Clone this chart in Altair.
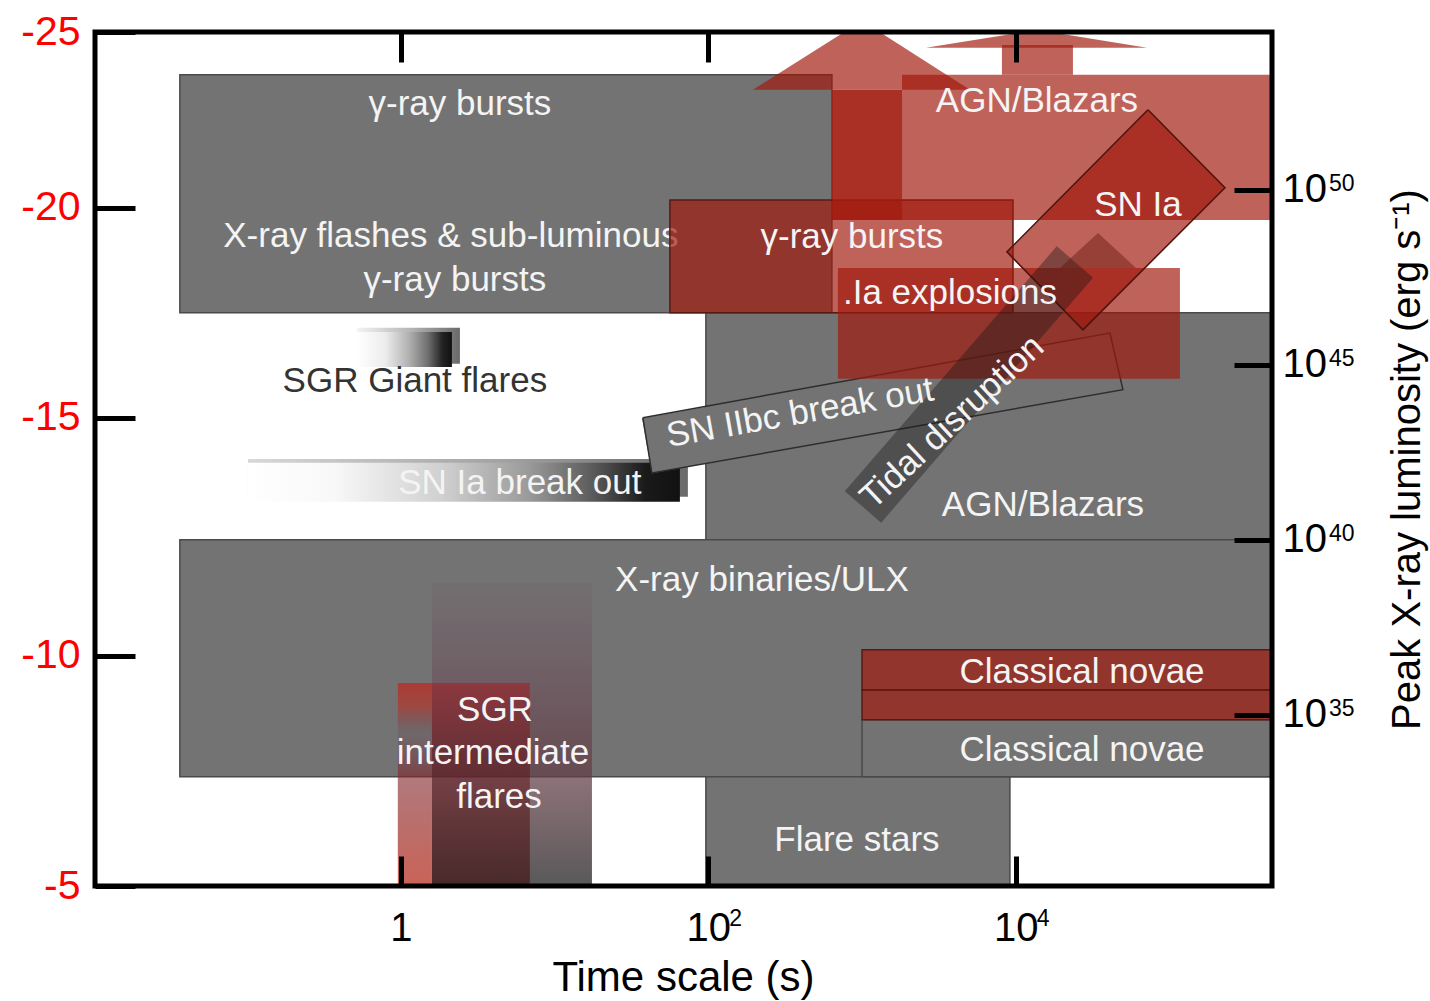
import altair as alt
import pandas as pd

# ---------------- data (x: log10 time scale [s], y: log10 peak X-ray luminosity [erg/s]) ----------------
X_DOMAIN = [-1.99, 5.667]
Y_DOMAIN = [30.11, 54.51]

x_tick_values = [0, 2, 4]
x_tick_labels = ["1", "10", "10"]
x_exp_values = [2, 4]
x_exp_labels = ["2", "4"]
lum_tick_values = [35, 40, 45, 50]
lum_tick_labels = ["10", "10", "10", "10"]
lum_exp_labels = ["35", "40", "45", "50"]
mag_tick_values = [54.51, 49.49, 43.49, 36.69, 30.11]
mag_tick_labels = ["-25", "-20", "-15", "-10", "-5"]

# grey source classes
gray_names = ["GRB / XRF", "AGN/Blazars", "X-ray binaries/ULX", "Flare stars", "Classical novae"]
gray_t0 = [-1.438, 1.984, -1.438, 1.984, 3.0]
gray_t1 = [2.804, 5.667, 5.667, 3.962, 5.667]
gray_l0 = [46.49, 40.0, 33.23, 30.11, 33.23]
gray_l1 = [53.29, 46.49, 40.0, 33.23, 34.86]

# red (outlined) source classes
redo_names = ["γ-ray bursts", "Classical novae a", "Classical novae b"]
redo_t0 = [1.750, 3.0, 3.0]
redo_t1 = [3.982, 5.667, 5.667]
redo_l0 = [46.49, 35.71, 34.86]
redo_l1 = [49.71, 36.86, 35.71]

# red (plain) source classes
redp_names = [".Ia explosions", "AGN/Blazars"]
redp_t0 = [2.843, 3.260]
redp_t1 = [5.068, 5.667]
redp_l0 = [44.6, 49.14]
redp_l1 = [47.77, 53.29]

# arrow shafts of the AGN/Blazars region
shaft_names = ["arrow 1", "arrow 2"]
shaft_t0 = [2.804, 3.910]
shaft_t1 = [3.260, 4.372]
shaft_l0 = [49.14, 53.29]
shaft_l1 = [52.86, 54.14]
shaft_op = [0.9, 0.68]

# arrow heads (triangles): points and base
head_arrow = ["arrow 1", "arrow 1", "arrow 1", "arrow 2", "arrow 2", "arrow 2"]
head_t = [2.290, 3.0, 3.702, 3.416, 4.138, 4.854]
head_l = [52.86, 54.83, 52.86, 54.06, 54.57, 54.06]
head_base = [52.86, 52.86, 52.86, 54.06, 54.06, 54.06]

tidal_head_t = [4.288, 4.535, 4.782]
tidal_head_l = [47.77, 48.77, 47.77]
tidal_head_base = [47.77, 47.77, 47.77]

# rotated boxes: axis from (t0,l0) to (t1,l1)
iibc_axis = {"t0": [1.601], "t1": [4.658], "l0": [42.69], "l1": [45.09]}
snia_axis = {"t0": [5.111], "t1": [4.190], "l0": [51.17], "l1": [47.11]}
tidal_axis = {"t0": [3.006], "t1": [4.385], "l0": [40.94], "l1": [47.94]}

iibc_corner_t = [1.574, 4.613, 4.697, 1.633, 1.574]
iibc_corner_l = [43.49, 45.91, 44.29, 41.91, 43.49]
snia_corner_t = [4.860, 5.361, 4.437, 3.943, 4.860]
snia_corner_l = [52.29, 50.06, 46.0, 48.23, 52.29]

# shaded (gradient) regions
grad_names = ["SGR giant shadow", "SGR giant", "SN Ia break out shadow", "SN Ia break out",
              "SGR intermediate broad", "SGR intermediate core", "SGR intermediate narrow"]
grad_t0 = [-0.286, -0.286, -0.995, -0.995, 0.202, 0.202, -0.020]
grad_t1 = [0.384, 0.332, 1.867, 1.815, 1.243, 0.839, 0.202]
grad_l0 = [45.03, 44.94, 41.23, 41.09, 30.11, 30.11, 30.11]
grad_l1 = [46.06, 45.94, 42.31, 42.20, 38.77, 35.91, 35.91]

# labels
under_text = ["X-ray flashes & sub-luminous"]
under_t = [0.325]
under_l = [48.69]

lab_text = ["γ-ray bursts", "γ-ray bursts", "γ-ray bursts", "AGN/Blazars", "SN Ia", ".Ia explosions",
            "SN Ia break out", "AGN/Blazars", "X-ray binaries/ULX", "Classical novae", "Classical novae",
            "SGR", "intermediate", "flares", "Flare stars"]
lab_t = [0.384, 0.351, 2.934, 4.138, 4.795, 3.572, 0.774, 4.177, 2.349, 4.431, 4.431,
         0.612, 0.599, 0.638, 2.967]
lab_l = [52.46, 47.43, 48.66, 52.54, 49.57, 47.06, 41.63, 41.0, 38.86, 36.23, 34.0,
         35.14, 33.91, 32.66, 31.43]

dark_text = ["SGR Giant flares"]
dark_t = [0.091]
dark_l = [44.54]

iibc_text = ["SN IIbc break out"]
iibc_t = [2.596]
iibc_l = [43.63]
tidal_text = ["Tidal disruption"]
tidal_t = [3.585]
tidal_l = [43.37]

# ---------------- styling ----------------
W, H = 1177, 854
FONT = "Liberation Sans"
FS = 35
GRAY = "#737373"
RED = "#a1180c"
RED_OP = 0.68
XS = alt.Scale(domain=X_DOMAIN, nice=False, zero=False)
YS = alt.Scale(domain=Y_DOMAIN, nice=False, zero=False)


def lab_expr(vals, labs):
    parts = [f"abs(datum.value - ({v})) < 0.01 ? '{s}'" for v, s in zip(vals, labs)]
    return " : ".join(parts) + " : ''"


axis_bottom = alt.Axis(orient="bottom", values=x_tick_values, labelExpr=lab_expr(x_tick_values, x_tick_labels),
                       offset=-30, tickSize=30, tickWidth=5, tickColor="black", domain=False, grid=False,
                       labelFont=FONT, labelFontSize=40, labelColor="black", labelPadding=22,
                       labelFlush=False, labelOverlap=False,
                       title="Time scale (s)", titleFont=FONT, titleFontSize=42, titleFontWeight="normal",
                       titleColor="black", titleX=588, titleY=121, titleAlign="center",
                       titleBaseline="middle", zindex=1)
axis_top = alt.Axis(orient="top", values=x_tick_values, labels=False, offset=-30, tickSize=30, tickWidth=5,
                    tickColor="black", domain=False, grid=False, title="", zindex=1)
axis_left = alt.Axis(orient="left", values=mag_tick_values, labelExpr=lab_expr(mag_tick_values, mag_tick_labels),
                     offset=-40, tickSize=40, tickWidth=5, tickColor="black", domain=False, grid=False,
                     labelFont=FONT, labelFontSize=41, labelColor="#ff0000", labelPadding=15,
                     labelOverlap=False, labelFlush=False, title="", zindex=1)
axis_right = alt.Axis(orient="right", values=lum_tick_values, labelExpr=lab_expr(lum_tick_values, lum_tick_labels),
                      offset=-38, tickSize=38, tickWidth=5, tickColor="black", domain=False, grid=False,
                      labelFont=FONT, labelFontSize=40, labelColor="black", labelPadding=10,
                      labelOverlap=False, labelFlush=False,
                      title="Peak X-ray luminosity (erg s⁻¹)", titleFont=FONT, titleFontSize=40,
                      titleFontWeight="normal", titleColor="black", titleAngle=270, titleX=173, titleY=427,
                      titleAlign="center", titleBaseline="middle", zindex=1)


def rect_layer(df, xaxis=None, yaxis=None, **mark):
    return alt.Chart(df).mark_rect(clip=True, **mark).encode(
        x=alt.X("t0:Q", scale=XS, axis=xaxis), x2="t1:Q",
        y=alt.Y("l0:Q", scale=YS, axis=yaxis), y2="l1:Q")


def grad(stops, vertical=False):
    return alt.LinearGradient(gradient="linear",
                              stops=[alt.GradientStop(color=c, offset=o) for o, c in stops],
                              x1=0, y1=0, x2=0 if vertical else 1, y2=1 if vertical else 0)


def text_layer(texts, ts, ls, align="center", baseline="middle", **mark):
    df = pd.DataFrame({"text": texts, "t": ts, "l": ls})
    return alt.Chart(df).mark_text(font=FONT, align=align, baseline=baseline, **mark).encode(
        x=alt.X("t:Q", scale=XS, axis=None), y=alt.Y("l:Q", scale=YS, axis=None), text="text:N")


def rule_layer(d, **mark):
    return alt.Chart(pd.DataFrame(d)).mark_rule(clip=True, **mark).encode(
        x=alt.X("t0:Q", scale=XS, axis=None), x2="t1:Q",
        y=alt.Y("l0:Q", scale=YS, axis=None), y2="l1:Q")


def outline_layer(ts, ls, **mark):
    df = pd.DataFrame({"t": ts, "l": ls, "k": list(range(len(ts)))})
    return alt.Chart(df).mark_line(clip=True, **mark).encode(
        x=alt.X("t:Q", scale=XS, axis=None), y=alt.Y("l:Q", scale=YS, axis=None), order="k:Q")


df_gray = pd.DataFrame({"name": gray_names, "t0": gray_t0, "t1": gray_t1, "l0": gray_l0, "l1": gray_l1})
df_redo = pd.DataFrame({"name": redo_names, "t0": redo_t0, "t1": redo_t1, "l0": redo_l0, "l1": redo_l1})
df_redp = pd.DataFrame({"name": redp_names, "t0": redp_t0, "t1": redp_t1, "l0": redp_l0, "l1": redp_l1})
df_shaft = pd.DataFrame({"name": shaft_names, "t0": shaft_t0, "t1": shaft_t1, "l0": shaft_l0,
                         "l1": shaft_l1, "op": shaft_op})
df_head = pd.DataFrame({"arrow": head_arrow, "t": head_t, "l": head_l, "base": head_base})
df_thead = pd.DataFrame({"t": tidal_head_t, "l": tidal_head_l, "base": tidal_head_base})
df_grad = pd.DataFrame({"name": grad_names, "t0": grad_t0, "t1": grad_t1, "l0": grad_l0, "l1": grad_l1})

grad_styles = [
    grad([(0, "#f4f4f4"), (0.5, "#b8b8b8"), (1, "#6a6a6a")]),
    grad([(0, "#ffffff"), (0.3, "#ececec"), (0.55, "#b0b0b0"), (0.75, "#6e6e6e"), (0.9, "#222222"), (1, "#111111")]),
    grad([(0, "#d8d8d8"), (0.6, "#a0a0a0"), (1, "#6a6a6a")]),
    grad([(0, "#ffffff"), (0.2, "#f8f8f8"), (0.45, "#d0d0d0"), (0.65, "#9a9a9a"), (0.8, "#5a5a5a"),
          (0.92, "#1a1a1a"), (1, "#111111")]),
    grad([(0, "rgba(110,70,90,0.1)"), (0.6, "rgba(100,60,70,0.7)"), (1, "rgba(80,80,80,0.95)")], vertical=True),
    grad([(0, "rgba(170,20,25,0.5)"), (0.35, "rgba(100,20,25,0.5)"), (1, "rgba(60,10,10,0.6)")], vertical=True),
    grad([(0, "rgba(190,40,30,0.75)"), (0.12, "rgba(185,45,35,0.6)"), (0.25, "rgba(100,60,75,0.2)"),
          (0.45, "rgba(130,40,45,0.62)"), (1, "rgba(190,60,45,0.8)")], vertical=True),
]

layers = []
# grey classes (carry bottom and left axes)
layers.append(rect_layer(df_gray, xaxis=axis_bottom, yaxis=axis_left, fill=GRAY, stroke="#4a4a4a",
                         strokeWidth=1.5))
# gradient regions
for i, g in enumerate(grad_styles):
    layers.append(rect_layer(df_grad.iloc[[i]], fill=g))
# label partly hidden by red box
layers.append(text_layer(under_text, under_t, under_l, fontSize=FS, color="#f4f4f4"))
# SN IIbc break out box
layers.append(rule_layer(iibc_axis, color=GRAY, strokeWidth=56))
layers.append(outline_layer(iibc_corner_t, iibc_corner_l, color="#2e2e2e", strokeWidth=1.5))
# red classes (carry top and right axes)
layers.append(rect_layer(df_redo, xaxis=axis_top, yaxis=axis_right, fill=RED, fillOpacity=RED_OP,
                         stroke="#5a1a12", strokeWidth=1.5))
layers.append(rect_layer(df_redp, fill=RED, fillOpacity=RED_OP))
layers.append(alt.Chart(df_shaft).mark_rect(clip=True, fill=RED).encode(
    x=alt.X("t0:Q", scale=XS, axis=None), x2="t1:Q",
    y=alt.Y("l0:Q", scale=YS, axis=None), y2="l1:Q",
    fillOpacity=alt.FillOpacity("op:Q", scale=None)))
layers.append(alt.Chart(df_head).mark_area(clip=True, fill=RED, fillOpacity=RED_OP).encode(
    x=alt.X("t:Q", scale=XS, axis=None), y=alt.Y("l:Q", scale=YS, axis=None, stack=None),
    y2="base:Q", detail="arrow:N"))
# SN Ia box
layers.append(rule_layer(snia_axis, color=RED, strokeOpacity=RED_OP, strokeWidth=110))
layers.append(outline_layer(snia_corner_t, snia_corner_l, color="#4a1510", strokeWidth=1.5))
# tidal disruption band
layers.append(rule_layer(tidal_axis, color="#141414", strokeOpacity=0.38, strokeWidth=48))
layers.append(alt.Chart(df_thead).mark_area(clip=True, fill="#5a0e06", fillOpacity=0.4).encode(
    x=alt.X("t:Q", scale=XS, axis=None), y=alt.Y("l:Q", scale=YS, axis=None, stack=None), y2="base:Q"))
# labels
layers.append(text_layer(lab_text, lab_t, lab_l, fontSize=FS, color="#f4f4f4"))
layers.append(text_layer(dark_text, dark_t, dark_l, fontSize=FS, color="#333333"))
layers.append(text_layer(iibc_text, iibc_t, iibc_l, fontSize=FS, color="#f4f4f4", angle=350))
layers.append(text_layer(tidal_text, tidal_t, tidal_l, fontSize=FS, color="#f4f4f4", angle=317))
# axis exponents (superscripts)
layers.append(text_layer(x_exp_labels, x_exp_values, [Y_DOMAIN[0]] * len(x_exp_values), align="left",
                         baseline="top", fontSize=23, color="black", dx=21, dy=22))
layers.append(text_layer(lum_exp_labels, [X_DOMAIN[1]] * len(lum_exp_labels), lum_tick_values, align="left",
                         baseline="top", fontSize=23, color="black", dx=57, dy=-17))
# frame
layers.append(alt.Chart(pd.DataFrame({"frame": [0]})).mark_rect(fill="transparent", stroke="black",
                                                                 strokeWidth=5).encode(
    x=alt.value(0), x2=alt.value(W), y=alt.value(0), y2=alt.value(H)))

chart = alt.layer(*layers).resolve_axis(x="independent", y="independent").properties(
    width=W, height=H,
    autosize=alt.AutoSizeParams(type="none"),
    padding={"left": 95, "top": 32, "right": 158, "bottom": 115},
).configure_view(strokeOpacity=0)

chart.save("out.html", embed_options={"renderer": "svg", "actions": False})
